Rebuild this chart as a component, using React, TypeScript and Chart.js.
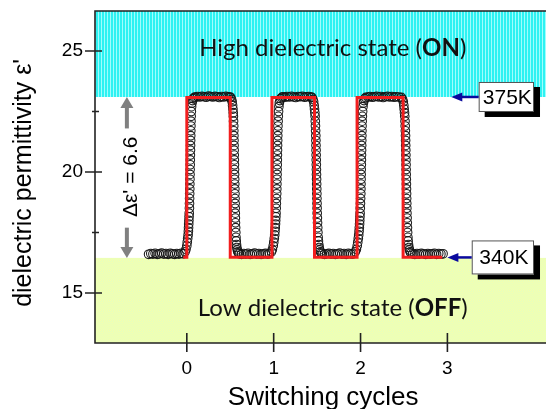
import React, { useEffect, useRef } from 'react';
import { Chart, registerables } from 'chart.js';
Chart.register(...registerables);

// ---- axes ----
const xTickValues = [0, 1, 2, 3];
const yTickValues = [15, 20, 25];
const yMinorTickValues = [17.5, 22.5];
const xMin = -1.057;
const xMax = 4.188;
const yMin = 12.934;
const yMax = 26.653;
const xTitle = 'Switching cycles';
const yTitle = "dielectric permittivity \u03b5'";

// ---- state levels ----
const onLevel = 23.1;
const offLevel = 16.45;
const deltaText = "\u0394\u03b5' = 6.6";
const highText = ['High dielectric state (', 'ON', ')'];
const lowText = ['Low dielectric state (', 'OFF', ')'];
const hotLabel = '375K';
const coldLabel = '340K';

// ---- red (temperature program) line ----
const redX = [-0.04, 0, 0, 0.5, 0.5, 0.98, 0.98, 1.47, 1.47, 1.96, 1.96, 2.49, 2.49, 2.94];
const redY = [16.48, 16.48, 23.08, 23.08, 16.48, 16.48, 23.08, 23.08, 16.48, 16.48, 23.08, 23.08, 16.48, 16.48];

// ---- measured points (open circles) ----
const riseY = [16.7, 16.8, 16.95, 17.1, 17.25, 17.4, 17.55, 17.7, 17.85, 18.0, 18.15, 18.3, 18.5, 18.7, 18.9, 19.1, 19.3, 19.5, 19.7, 19.9, 20.1, 20.3, 20.5, 20.7, 20.9, 21.1, 21.3, 21.5, 21.7, 21.9, 22.1, 22.3, 22.5, 22.7, 22.85, 22.95, 23.03, 23.08];
const fallY = [23.08, 23.0, 22.9, 22.75, 22.6, 22.45, 22.3, 22.1, 21.9, 21.7, 21.5, 21.3, 21.1, 20.9, 20.7, 20.5, 20.3, 20.1, 19.9, 19.7, 19.5, 19.3, 19.1, 18.9, 18.7, 18.5, 18.3, 18.1, 17.9, 17.7, 17.5, 17.3, 17.15, 17.0, 16.88, 16.78, 16.7, 16.65];

const low0X = [-0.44, -0.415, -0.39, -0.365, -0.34, -0.315, -0.29, -0.265, -0.24, -0.215, -0.19, -0.165, -0.14, -0.115, -0.09, -0.065, -0.04];
const low0Y = [16.6, 16.63, 16.61, 16.64, 16.6, 16.62, 16.65, 16.61, 16.63, 16.6, 16.64, 16.62, 16.6, 16.63, 16.61, 16.64, 16.62];
const rise0X = [-0.02, -0.01, 0.0, 0.005, 0.01, 0.015, 0.018, 0.02, 0.022, 0.024, 0.026, 0.028, 0.03, 0.031, 0.032, 0.033, 0.034, 0.035, 0.036, 0.037, 0.038, 0.039, 0.04, 0.041, 0.042, 0.043, 0.044, 0.045, 0.046, 0.047, 0.048, 0.05, 0.052, 0.055, 0.06, 0.066, 0.074, 0.085];
const high0X = [0.1, 0.125, 0.15, 0.175, 0.2, 0.225, 0.25, 0.275, 0.3, 0.325, 0.35, 0.375, 0.4, 0.425, 0.45, 0.475, 0.495];
const high0Y = [23.1, 23.12, 23.1, 23.13, 23.11, 23.09, 23.14, 23.12, 23.1, 23.13, 23.11, 23.08, 23.12, 23.1, 23.13, 23.11, 23.1];
const fall0X = [0.505, 0.515, 0.522, 0.527, 0.531, 0.534, 0.536, 0.538, 0.54, 0.541, 0.542, 0.543, 0.544, 0.545, 0.546, 0.547, 0.548, 0.549, 0.55, 0.551, 0.552, 0.553, 0.554, 0.555, 0.556, 0.557, 0.558, 0.559, 0.56, 0.562, 0.564, 0.566, 0.569, 0.572, 0.576, 0.581, 0.587, 0.595];
const low1X = [0.605, 0.63, 0.655, 0.68, 0.705, 0.73, 0.755, 0.78, 0.805, 0.83, 0.855, 0.88, 0.905, 0.93, 0.95];
const low1Y = [16.62, 16.6, 16.63, 16.61, 16.64, 16.6, 16.62, 16.65, 16.61, 16.63, 16.6, 16.62, 16.64, 16.61, 16.63];
const rise1X = [0.975, 0.985, 0.995, 1.001, 1.007, 1.012, 1.015, 1.018, 1.021, 1.023, 1.025, 1.027, 1.029, 1.031, 1.033, 1.035, 1.036, 1.037, 1.038, 1.039, 1.04, 1.041, 1.042, 1.043, 1.044, 1.045, 1.046, 1.047, 1.048, 1.049, 1.051, 1.053, 1.056, 1.06, 1.065, 1.072, 1.081, 1.093];
const high1X = [1.105, 1.13, 1.155, 1.18, 1.205, 1.23, 1.255, 1.28, 1.305, 1.33, 1.355, 1.38, 1.405, 1.43];
const high1Y = [23.11, 23.09, 23.12, 23.1, 23.13, 23.1, 23.08, 23.12, 23.11, 23.13, 23.09, 23.11, 23.12, 23.1];
const fall1X = [1.44, 1.452, 1.46, 1.466, 1.47, 1.474, 1.477, 1.479, 1.481, 1.483, 1.485, 1.486, 1.487, 1.488, 1.489, 1.49, 1.491, 1.492, 1.493, 1.494, 1.495, 1.496, 1.497, 1.498, 1.499, 1.5, 1.501, 1.503, 1.505, 1.507, 1.509, 1.512, 1.515, 1.519, 1.524, 1.53, 1.538, 1.548];
const low2X = [1.56, 1.585, 1.61, 1.635, 1.66, 1.685, 1.71, 1.735, 1.76, 1.785, 1.81, 1.835, 1.86, 1.885, 1.91];
const low2Y = [16.63, 16.6, 16.62, 16.64, 16.61, 16.63, 16.6, 16.62, 16.65, 16.61, 16.63, 16.6, 16.64, 16.62, 16.61];
const rise2X = [1.94, 1.952, 1.962, 1.968, 1.974, 1.979, 1.983, 1.986, 1.989, 1.991, 1.993, 1.995, 1.997, 1.999, 2.001, 2.003, 2.004, 2.005, 2.006, 2.007, 2.008, 2.009, 2.01, 2.011, 2.012, 2.013, 2.014, 2.015, 2.016, 2.017, 2.019, 2.021, 2.024, 2.028, 2.033, 2.04, 2.049, 2.06];
const high2X = [2.085, 2.11, 2.135, 2.16, 2.185, 2.21, 2.235, 2.26, 2.285, 2.31, 2.335, 2.36, 2.385, 2.41, 2.44];
const high2Y = [23.1, 23.12, 23.09, 23.11, 23.13, 23.1, 23.12, 23.08, 23.11, 23.13, 23.1, 23.12, 23.09, 23.11, 23.1];
const fall2X = [2.47, 2.484, 2.492, 2.498, 2.502, 2.506, 2.509, 2.512, 2.514, 2.516, 2.518, 2.519, 2.52, 2.521, 2.522, 2.523, 2.524, 2.525, 2.526, 2.527, 2.528, 2.529, 2.53, 2.531, 2.532, 2.533, 2.534, 2.536, 2.538, 2.54, 2.542, 2.545, 2.548, 2.552, 2.557, 2.563, 2.571, 2.58];
const low3X = [2.6, 2.625, 2.65, 2.675, 2.7, 2.725, 2.75, 2.775, 2.8, 2.825, 2.85, 2.875, 2.9, 2.925, 2.95];
const low3Y = [16.62, 16.6, 16.63, 16.61, 16.64, 16.62, 16.6, 16.63, 16.61, 16.62, 16.64, 16.6, 16.63, 16.61, 16.62];

// ---- annotation anchors (data units) ----
const deltaArrowX = -0.69;
const upArrowTail = 21.8;
const downArrowTail = 17.7;
const deltaTextY = 19.8;
const hotBox = { left: 3.36, right: 3.997, y: onLevel, h: 30, tip: 3.045 };
const coldBox = { left: 3.28, right: 3.997, y: 16.47, h: 34, tip: 3.0 };

const measured = (() => {
  const xs = [low0X, rise0X, high0X, fall0X, low1X, rise1X, high1X, fall1X, low2X, rise2X, high2X, fall2X, low3X];
  const ys = [low0Y, riseY, high0Y, fallY, low1Y, riseY, high1Y, fallY, low2Y, riseY, high2Y, fallY, low3Y];
  const pts: { x: number; y: number }[] = [];
  xs.forEach((seg, i) => seg.forEach((v, j) => pts.push({ x: v, y: ys[i][j] })));
  return pts;
})();
const redLine = redX.map((v, i) => ({ x: v, y: redY[i] }));

const AXIS_FONT = '"Liberation Sans", Arial, sans-serif';
const NOTE_FONT = 'Lato, "Open Sans", sans-serif';

function stripePattern(ctx: CanvasRenderingContext2D) {
  const c = document.createElement('canvas');
  c.width = 3; c.height = 1;
  const g = c.getContext('2d')!;
  g.fillStyle = '#2ef2f2'; g.fillRect(0, 0, 2, 1);
  g.fillStyle = '#a0fdfd'; g.fillRect(2, 0, 1, 1);
  return ctx.createPattern(c, 'repeat')!;
}
function checkerPattern(ctx: CanvasRenderingContext2D) {
  const c = document.createElement('canvas');
  c.width = 2; c.height = 2;
  const g = c.getContext('2d')!;
  g.fillStyle = '#f8ffaa'; g.fillRect(0, 0, 2, 2);
  g.fillStyle = '#e2ffc2'; g.fillRect(1, 0, 1, 1); g.fillRect(0, 1, 1, 1);
  return ctx.createPattern(c, 'repeat')!;
}

function drawMixedText(ctx: CanvasRenderingContext2D, parts: string[], cx: number, baseY: number, size: number) {
  const fonts = [`${size}px ${NOTE_FONT}`, `bold ${size}px ${NOTE_FONT}`, `${size}px ${NOTE_FONT}`];
  const widths = parts.map((p, i) => { ctx.font = fonts[i]; return ctx.measureText(p).width; });
  let x = cx - widths.reduce((a, b) => a + b, 0) / 2;
  ctx.textAlign = 'left';
  ctx.textBaseline = 'alphabetic';
  ctx.fillStyle = '#111';
  parts.forEach((p, i) => { ctx.font = fonts[i]; ctx.fillText(p, x, baseY); x += widths[i]; });
}

function grayArrow(ctx: CanvasRenderingContext2D, x: number, tail: number, tip: number) {
  const dir = tip < tail ? -1 : 1;
  const headLen = 11;
  ctx.strokeStyle = '#808080';
  ctx.fillStyle = '#808080';
  ctx.lineWidth = 4;
  ctx.beginPath();
  ctx.moveTo(x, tail);
  ctx.lineTo(x, tip - dir * headLen + dir * 1);
  ctx.stroke();
  ctx.beginPath();
  ctx.moveTo(x, tip);
  ctx.lineTo(x - 6.5, tip - dir * headLen);
  ctx.lineTo(x + 6.5, tip - dir * headLen);
  ctx.closePath();
  ctx.fill();
}

function labelBox(ctx: CanvasRenderingContext2D, left: number, right: number, cy: number, h: number, tipX: number, text: string) {
  const top = cy - h / 2;
  ctx.fillStyle = '#000';
  ctx.fillRect(left + 6, top + 5, right - left, h);
  ctx.fillStyle = '#fff';
  ctx.fillRect(left, top, right - left, h);
  ctx.strokeStyle = '#555';
  ctx.lineWidth = 1;
  ctx.strokeRect(left + 0.5, top + 0.5, right - left - 1, h - 1);
  ctx.fillStyle = '#000';
  ctx.font = `21px ${AXIS_FONT}`;
  ctx.textAlign = 'center';
  ctx.textBaseline = 'middle';
  ctx.fillText(text, (left + right) / 2 + 1, cy + 1);
  // blue arrow
  ctx.strokeStyle = '#0a0a9e';
  ctx.fillStyle = '#0a0a9e';
  ctx.lineWidth = 2.5;
  ctx.beginPath();
  ctx.moveTo(left, cy);
  ctx.lineTo(tipX + 8, cy);
  ctx.stroke();
  ctx.beginPath();
  ctx.moveTo(tipX, cy);
  ctx.lineTo(tipX + 11, cy - 4.5);
  ctx.lineTo(tipX + 11, cy + 4.5);
  ctx.closePath();
  ctx.fill();
}

const decorPlugin = {
  id: 'decor',
  beforeDatasetsDraw(chart: any) {
    const { ctx, chartArea: a, scales } = chart;
    const y = scales.y;
    ctx.save();
    ctx.fillStyle = '#fff';
    ctx.fillRect(a.left, a.top, a.right - a.left, a.bottom - a.top);
    const yOn = y.getPixelForValue(onLevel);
    const yOff = y.getPixelForValue(offLevel);
    ctx.fillStyle = stripePattern(ctx);
    ctx.fillRect(a.left, a.top, a.right - a.left, yOn - a.top);
    ctx.fillStyle = checkerPattern(ctx);
    ctx.fillRect(a.left, yOff, a.right - a.left, a.bottom - yOff);
    ctx.restore();
  },
  afterDatasetsDraw(chart: any) {
    const { ctx, chartArea: a, scales } = chart;
    const x = scales.x, y = scales.y;
    ctx.save();

    // state texts
    const cx = x.getPixelForValue(1.68);
    drawMixedText(ctx, highText, cx, y.getPixelForValue(onLevel) - 41, 24);
    drawMixedText(ctx, lowText, cx, y.getPixelForValue(offLevel) + 58, 24);

    // delta arrows and text
    const ax = x.getPixelForValue(deltaArrowX);
    grayArrow(ctx, ax, y.getPixelForValue(upArrowTail), y.getPixelForValue(onLevel));
    grayArrow(ctx, ax, y.getPixelForValue(downArrowTail), y.getPixelForValue(offLevel));
    ctx.save();
    ctx.translate(ax + 10, y.getPixelForValue(deltaTextY));
    ctx.rotate(-Math.PI / 2);
    ctx.font = `21px ${AXIS_FONT}`;
    ctx.fillStyle = '#000';
    ctx.textAlign = 'center';
    ctx.textBaseline = 'alphabetic';
    ctx.fillText(deltaText, 0, 0);
    ctx.restore();

    // temperature boxes
    labelBox(ctx, x.getPixelForValue(hotBox.left), x.getPixelForValue(hotBox.right), y.getPixelForValue(hotBox.y), hotBox.h, x.getPixelForValue(hotBox.tip), hotLabel);
    labelBox(ctx, x.getPixelForValue(coldBox.left), x.getPixelForValue(coldBox.right), y.getPixelForValue(coldBox.y), coldBox.h, x.getPixelForValue(coldBox.tip), coldLabel);

    // frame
    ctx.strokeStyle = '#222';
    ctx.lineWidth = 1.6;
    ctx.beginPath();
    ctx.moveTo(a.right, a.top);
    ctx.lineTo(a.left, a.top);
    ctx.lineTo(a.left, a.bottom);
    ctx.lineTo(a.right, a.bottom);
    ctx.stroke();

    // ticks
    ctx.lineWidth = 1.6;
    ctx.beginPath();
    yTickValues.forEach(v => { const p = y.getPixelForValue(v); ctx.moveTo(a.left - 10, p); ctx.lineTo(a.left + 7, p); });
    yMinorTickValues.forEach(v => { const p = y.getPixelForValue(v); ctx.moveTo(a.left - 3, p); ctx.lineTo(a.left + 4, p); });
    xTickValues.forEach(v => { const p = x.getPixelForValue(v); ctx.moveTo(p, a.bottom - 10); ctx.lineTo(p, a.bottom + 9); });
    ctx.stroke();

    // axis titles
    ctx.fillStyle = '#000';
    ctx.font = `26px ${AXIS_FONT}`;
    ctx.textAlign = 'center';
    ctx.textBaseline = 'alphabetic';
    ctx.fillText(xTitle, x.getPixelForValue(1.57), 405);
    ctx.save();
    ctx.translate(31, y.getPixelForValue(19.55));
    ctx.rotate(-Math.PI / 2);
    ctx.font = `25px ${AXIS_FONT}`;
    ctx.fillText(yTitle, 0, 0);
    ctx.restore();

    ctx.restore();
  },
};

export default function App() {
  const ref = useRef<HTMLCanvasElement>(null);
  useEffect(() => {
    const canvas = ref.current!;
    const chart = new Chart(canvas, {
      type: 'scatter',
      data: {
        datasets: [
          {
            type: 'line',
            data: redLine,
            borderColor: '#f21e1e',
            borderWidth: 3,
            pointRadius: 0,
            showLine: true,
            fill: false,
            tension: 0,
            order: 0,
          } as any,
          {
            data: measured,
            pointRadius: 4.3,
            pointBorderWidth: 1.1,
            pointBackgroundColor: 'rgba(255,255,255,0)',
            pointBorderColor: 'rgba(20,20,20,0.95)',
            showLine: false,
            order: 1,
          },
        ],
      },
      options: {
        responsive: false,
        devicePixelRatio: 1,
        animation: false,
        layout: { padding: { top: 11, right: 0, bottom: 0, left: 0 } },
        plugins: { legend: { display: false }, tooltip: { enabled: false } },
        scales: {
          x: {
            type: 'linear',
            min: xMin,
            max: xMax,
            afterBuildTicks: (s: any) => { s.ticks = xTickValues.map(v => ({ value: v })); },
            afterFit: (s: any) => { s.height = 66; s.paddingLeft = 0; s.paddingRight = 0; },
            grid: { display: false, drawTicks: false },
            border: { display: false },
            ticks: { padding: 14, color: '#000', font: { family: AXIS_FONT, size: 19 }, maxRotation: 0 },
          },
          y: {
            type: 'linear',
            min: yMin,
            max: yMax,
            afterBuildTicks: (s: any) => { s.ticks = yTickValues.map(v => ({ value: v })); },
            afterFit: (s: any) => { s.width = 95; s.paddingTop = 0; s.paddingBottom = 0; },
            grid: { display: false, drawTicks: false },
            border: { display: false },
            ticks: { padding: 12, color: '#000', font: { family: AXIS_FONT, size: 19 } },
          },
        },
      },
      plugins: [decorPlugin],
    });
    return () => chart.destroy();
  }, []);
  return (
    <div style={{ position: 'fixed', left: 0, top: 0, width: 546, height: 409, overflow: 'hidden', background: '#fff' }}>
      <canvas ref={ref} width={556} height={409} style={{ display: 'block', width: 556, height: 409 }} />
    </div>
  );
}
